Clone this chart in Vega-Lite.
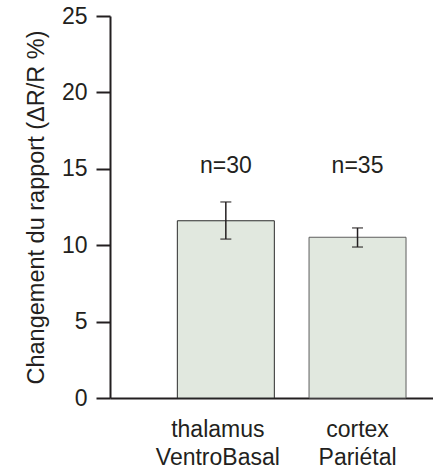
{
  "$schema": "https://vega.github.io/schema/vega-lite/v6.json",
  "width": 323,
  "height": 382,
  "autosize": "none",
  "padding": {"left": 110, "top": 16, "right": 0, "bottom": 70},
  "background": "white",
  "config": {
    "view": {"stroke": null},
    "font": "Liberation Sans"
  },
  "data": {
    "values": [
      {"region": "thalamus VentroBasal", "mean": 11.6, "lo": 10.4, "hi": 12.83, "n": "n=30"},
      {"region": "cortex Pariétal", "mean": 10.52, "lo": 9.88, "hi": 11.13, "n": "n=35"}
    ]
  },
  "encoding": {
    "x": {
      "field": "region",
      "type": "nominal",
      "sort": null,
      "scale": {"paddingInner": 0.2635, "paddingOuter": 0.358, "align": 0.714},
      "axis": {
        "title": null,
        "labelAngle": 0,
        "ticks": false,
        "domainColor": "#231f20",
        "domainWidth": 2,
        "labelFont": "Liberation Sans",
        "labelFontSize": 23,
        "labelColor": "#231f20",
        "labelPadding": 20,
        "labelLineHeight": 28,
        "labelOffset": {"condition": {"test": "datum.value == 'thalamus VentroBasal'", "value": -8}, "value": 0},
        "labelExpr": "split(datum.label, ' ')"
      }
    }
  },
  "layer": [
    {
      "mark": {"type": "bar", "fill": "#e1e8df", "strokeWidth": 1},
      "encoding": {
        "stroke": {
          "field": "region",
          "type": "nominal",
          "scale": {"domain": ["thalamus VentroBasal", "cortex Pariétal"], "range": ["#2b2b2b", "#5e5e5e"]},
          "legend": null
        },
        "y": {
          "field": "mean",
          "type": "quantitative",
          "scale": {"domain": [0, 25], "nice": false},
          "axis": {
            "values": [0, 5, 10, 15, 20, 25],
            "grid": false,
            "title": "Changement du rapport (ΔR/R %)",
            "titleFont": "Liberation Sans",
            "titleFontSize": 23.5,
            "titleFontWeight": "normal",
            "titleColor": "#231f20",
            "titlePadding": 13,
            "domainColor": "#231f20",
            "domainWidth": 2,
            "tickColor": "#231f20",
            "tickWidth": 2,
            "tickSize": 14,
            "labelFont": "Liberation Sans",
            "labelFontSize": 23,
            "labelColor": "#231f20",
            "labelPadding": 9
          }
        }
      }
    },
    {
      "mark": {"type": "rule", "color": "#231f20", "strokeWidth": 1.5},
      "encoding": {
        "y": {"field": "lo", "type": "quantitative"},
        "y2": {"field": "hi"}
      }
    },
    {
      "mark": {"type": "tick", "color": "#231f20", "thickness": 1.5, "size": 11},
      "encoding": {"y": {"field": "lo", "type": "quantitative"}}
    },
    {
      "mark": {"type": "tick", "color": "#231f20", "thickness": 1.5, "size": 11},
      "encoding": {"y": {"field": "hi", "type": "quantitative"}}
    },
    {
      "mark": {"type": "text", "font": "Liberation Sans", "fontSize": 23, "color": "#231f20", "baseline": "middle"},
      "encoding": {
        "y": {"datum": 15.2, "type": "quantitative"},
        "text": {"field": "n"}
      }
    }
  ]
}
